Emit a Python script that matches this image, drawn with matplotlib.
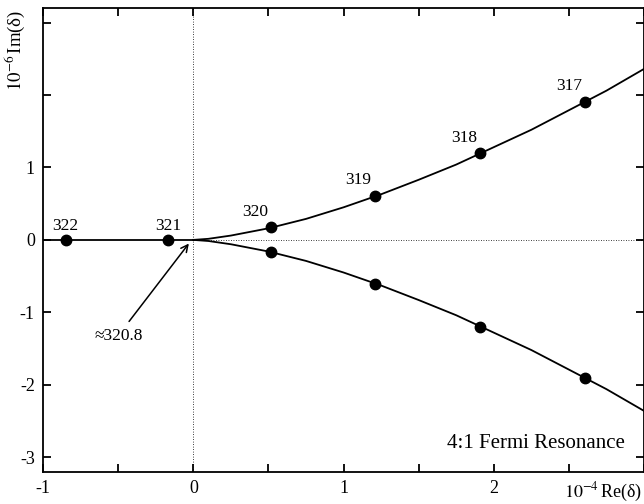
import matplotlib.pyplot as plt

plt.rcParams['font.family'] = ['Liberation Serif', 'DejaVu Serif']
plt.rcParams['mathtext.fontset'] = 'stix'

# branch points (Re, Im) and their labels
labels_up = ['320', '319', '318', '317']
re_up = [0.52, 1.21, 1.91, 2.61]
im_up = [0.18, 0.61, 1.20, 1.91]
im_down = [-0.17, -0.61, -1.20, -1.91]

labels_axis = ['322', '321']
re_axis = [-0.85, -0.17]
im_axis = [0.0, 0.0]

# curve
curve_re = [0.0, 0.1, 0.25, 0.5, 0.75, 1.0, 1.25, 1.5, 1.75, 2.0, 2.25, 2.5, 2.75, 3.0]
curve_im = [0.0, 0.015, 0.06, 0.16, 0.29, 0.45, 0.63, 0.83, 1.04, 1.28, 1.52, 1.79, 2.06, 2.36]

fig = plt.figure(figsize=(6.44, 5.04), dpi=100)
ax = fig.add_axes([0.067, 0.064, 0.933, 0.92])

ax.axvline(0, color='black', lw=0.6, ls=(0, (1, 2)))
ax.plot([0, 3], [0, 0], color='black', lw=0.6, ls=(0, (1, 2)))
ax.plot([-1, 0], [0, 0], color='black', lw=1.3)

ax.plot(curve_re, curve_im, color='black', lw=1.3)
ax.plot(curve_re, [-v for v in curve_im], color='black', lw=1.3)

ax.plot(re_up, im_up, 'o', color='black', ms=7.5)
ax.plot(re_up, im_down, 'o', color='black', ms=7.5)
ax.plot(re_axis, im_axis, 'o', color='black', ms=7.5)

for lab, x, y in zip(labels_up, re_up, im_up):
    ax.text(x - 0.11, y + 0.1, lab, ha='center', va='bottom', fontsize=12.5)
for lab, x, y in zip(labels_axis, re_axis, im_axis):
    ax.text(x, y + 0.08, lab, ha='center', va='bottom', fontsize=12.5)

ax.annotate('≈320.8', xy=(-0.03, -0.05), xytext=(-0.5, -1.32),
            ha='center', va='center', fontsize=12.5,
            arrowprops=dict(arrowstyle='->', color='black', lw=1.1,
                            shrinkA=3, shrinkB=0))

ax.text(2.28, -2.81, '4:1 Fermi Resonance', ha='center', va='center', fontsize=15)

ax.set_xlim(-1, 3)
ax.set_ylim(-3.2, 3.2)
ax.set_xticks([-1, -0.5, 0, 0.5, 1, 1.5, 2, 2.5, 3])
ax.set_xticklabels(['-1', '', '0', '', '1', '', '2', '', ''])
ax.set_yticks([-3, -2, -1, 0, 1, 2, 3])
ax.set_yticklabels(['-3', '-2', '-1', '0', '1', '', ''])
ax.tick_params(direction='in', length=6, width=1.3, labelsize=13,
               top=True, right=True, pad=6)
for s in ax.spines.values():
    s.set_linewidth(1.3)

ax.text(2.73, -3.48, r'$10^{-4}\,$Re(δ)', ha='center', va='center', fontsize=13)
ax.text(-1.19, 2.62, r'$10^{-6}\,$Im(δ)', ha='center', va='center',
        rotation=90, fontsize=13.5)

fig.savefig('out.png', dpi=100)
